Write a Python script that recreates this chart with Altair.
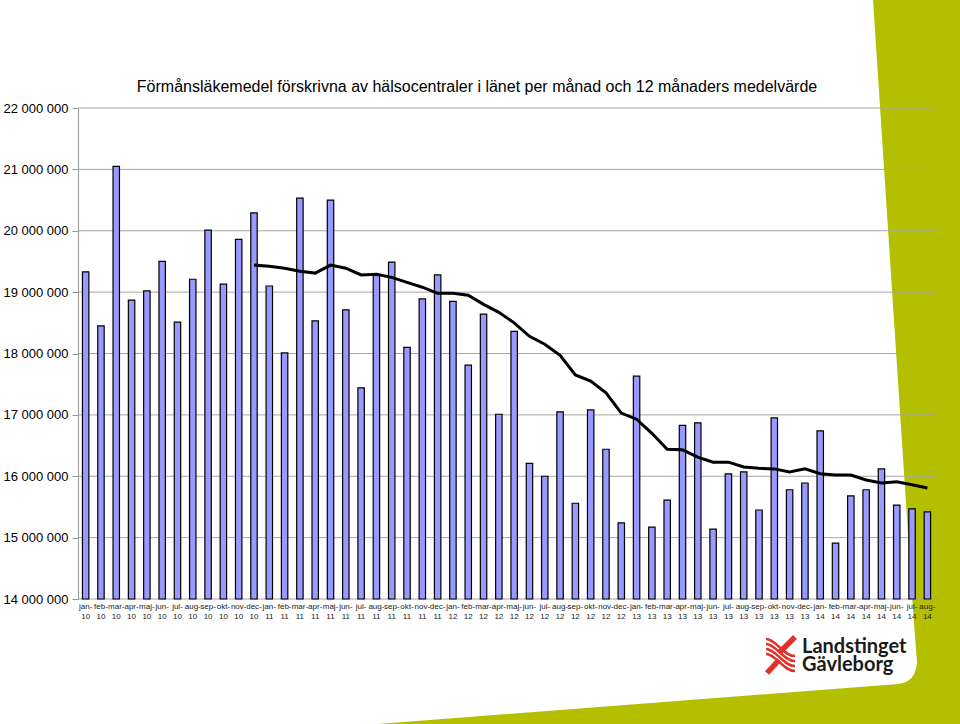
import altair as alt
import urllib.parse

# ---------------- data ----------------
month_names = ["jan", "feb", "mar", "apr", "maj", "jun", "jul", "aug", "sep", "okt", "nov", "dec"]
years = ["10", "11", "12", "13", "14"]
months = [f"{m}-{y}" for y in years for m in month_names][:56]  # jan-10 .. aug-14

monthly = [
    19.33, 18.45, 21.05, 18.87, 19.02, 19.50, 18.51, 19.21, 20.01, 19.13, 19.86, 20.29,
    19.10, 18.01, 20.53, 18.53, 20.50, 18.71, 17.44, 19.29, 19.49, 18.10, 18.89, 19.28,
    18.85, 17.81, 18.64, 17.01, 18.36, 16.21, 16.00, 17.05, 15.56, 17.08, 16.44, 15.24,
    17.63, 15.17, 15.61, 16.83, 16.87, 15.14, 16.04, 16.07, 15.45, 16.95, 15.78, 15.89,
    16.74, 14.91, 15.68, 15.78, 16.12, 15.53, 15.47, 15.42,
]
avg12 = [None] * 11 + [
    19.44,
    19.42, 19.39, 19.34, 19.31, 19.44, 19.39, 19.28, 19.29, 19.24, 19.16, 19.08, 18.98,
    18.98, 18.95, 18.80, 18.67, 18.50, 18.28, 18.15, 17.97, 17.65, 17.55, 17.36, 17.03,
    16.93, 16.70, 16.44, 16.43, 16.31, 16.23, 16.23, 16.15, 16.13, 16.12, 16.07, 16.12,
    16.04, 16.02, 16.02, 15.94, 15.89, 15.91, 15.86, 15.81,
]
y_ticks = [14, 15, 16, 17, 18, 19, 20, 21, 22]

title_text = "Förmånsläkemedel förskrivna av hälsocentraler i länet per månad och 12 månaders medelvärde"
logo_lines = ["Landstinget", "Gävleborg"]

Y_MIN = 14_000_000

rows = []
for i, (m, v, a) in enumerate(zip(months, monthly, avg12)):
    rows.append({
        "idx": i,
        "month": m,
        "mon": m[:4],
        "yr": m[4:],
        "value": v * 1_000_000,
        "base": Y_MIN,
        "avg": None if a is None else a * 1_000_000,
    })
data = alt.Data(values=rows)
grid_data = alt.Data(values=[{"t": t * 1_000_000} for t in y_ticks])

# ---------------- layout ----------------
W, H = 857, 491
PAD = {"left": 78, "top": 108, "right": 25, "bottom": 125}
OX, OY = PAD["left"], PAD["top"]

svg = """<svg xmlns='http://www.w3.org/2000/svg' width='960' height='724' viewBox='0 0 960 724'>
<path d='M873,0 L960,0 L960,724 L378,724 L898,684 Q916,682 917,662 L913,610 Z' fill='#b4bf00'/>
<g fill='none' stroke='#e0322a' stroke-width='2.6'>
<path d='M766,639 C776,639 783,656 795,656'/>
<path d='M766,644 C776,644 783,661 795,661'/>
<path d='M766,649 C776,649 783,666 795,666'/>
<path d='M766,654 C776,654 783,671 795,671'/>
</g>
<path d='M795,637 L780,652' stroke='#e0322a' stroke-width='5.5'/>
<path d='M779,660 L767,673' stroke='#e0322a' stroke-width='5.5'/>
</svg>"""
svg_url = "data:image/svg+xml;charset=utf-8," + urllib.parse.quote(svg)

one = alt.Data(values=[{"k": 1}])

y_scale = alt.Scale(domain=[Y_MIN, 22_000_000], nice=False, zero=False)
x_scale = alt.Scale(domain=months, paddingInner=0.58, paddingOuter=0.29)

bg = alt.Chart(one).mark_image(
    width=960, height=724, align="left", baseline="top", aspect=False
).encode(x=alt.value(-OX), y=alt.value(-OY), url=alt.value(svg_url))

grid = alt.Chart(grid_data).mark_rule(color="#a6a6a6", strokeWidth=1).encode(
    y=alt.Y("t:Q", scale=y_scale, title="")
)

x_axis = alt.Axis(
    labels=False,
    ticks=False,
    domain=False,
    grid=False,
)

y_axis = alt.Axis(
    values=[t * 1_000_000 for t in y_ticks],
    labelExpr="replace(replace(format(datum.value, ','), ',', ' '), ',', ' ')",
    labelFont="Liberation Sans",
    labelFontSize=13,
    labelColor="#000000",
    labelPadding=4,
    tickSize=6,
    tickColor="#999999",
    domainColor="#999999",
    grid=False,
    zindex=1,
)

bars = alt.Chart(data).mark_bar(
    color="#9999ff", stroke="#000000", strokeWidth=1.2
).encode(
    x=alt.X("month:N", scale=x_scale, axis=x_axis, title=""),
    y=alt.Y("value:Q", title="", scale=y_scale, axis=y_axis),
    y2=alt.Y2("base:Q"),
)

line = alt.Chart(data).transform_filter("isValid(datum.avg)").mark_line(
    color="#000000", strokeWidth=3
).encode(
    x=alt.X("month:N", scale=x_scale),
    y=alt.Y("avg:Q", scale=y_scale),
)

lab1 = alt.Chart(data).mark_text(
    font="Liberation Sans", fontSize=8, color="#222222", baseline="middle", align="center"
).encode(
    x=alt.X("month:N", scale=x_scale),
    y=alt.value(H + 8),
    text="mon:N",
)
lab2 = alt.Chart(data).mark_text(
    font="Liberation Sans", fontSize=8, color="#222222", baseline="middle", align="center"
).encode(
    x=alt.X("month:N", scale=x_scale),
    y=alt.value(H + 18),
    text="yr:N",
)

title = alt.Chart(one).mark_text(
    text=title_text, font="Liberation Sans", fontSize=16, color="#000000",
    align="center", baseline="middle"
).encode(x=alt.value(477 - OX), y=alt.value(87 - OY))

logo1 = alt.Chart(one).mark_text(
    text=logo_lines[0], font="Lato", fontSize=20, fontWeight="bold", color="#1a1a1a",
    align="left", baseline="alphabetic"
).encode(x=alt.value(802 - OX), y=alt.value(653 - OY))
logo2 = alt.Chart(one).mark_text(
    text=logo_lines[1], font="Lato", fontSize=20, fontWeight="bold", color="#1a1a1a",
    align="left", baseline="alphabetic"
).encode(x=alt.value(802 - OX), y=alt.value(671 - OY))

chart = alt.layer(bg, grid, bars, line, lab1, lab2, title, logo1, logo2).properties(
    width=W, height=H,
    padding=PAD,
    autosize=alt.AutoSizeParams(type="none"),
    background="#ffffff",
).configure_view(strokeWidth=0)

chart.save("out.html", embed_options={"renderer": "svg", "actions": False})
